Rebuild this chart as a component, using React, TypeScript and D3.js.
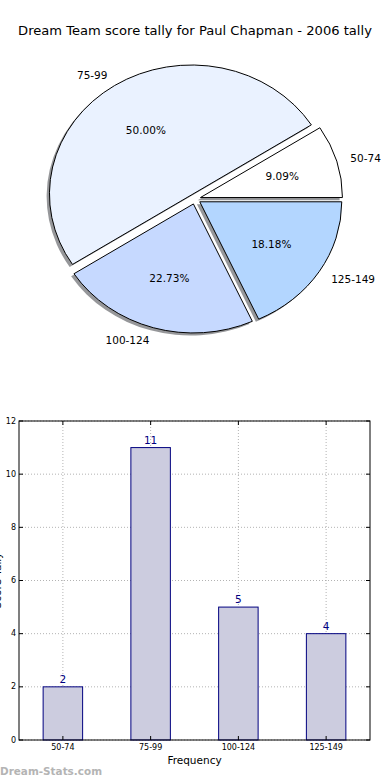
import React from 'react';
import * as d3 from 'd3';

const title = 'Dream Team score tally for Paul Chapman - 2006 tally';
const categories = ['50-74', '75-99', '100-124', '125-149'];
const counts = [2, 11, 5, 4];
const sliceColors = ['#ffffff', '#eaf2ff', '#c6d9ff', '#b3d6ff'];
const yTicks = [0, 2, 4, 6, 8, 10, 12];

const W = 390;
const H = 780;
const FONT = 'DejaVu Sans, sans-serif';

// pie geometry (ellipse, as the original axes were not square)
const cx = 195;
const cy = 199;
const rx = 142;
const ry = 129;
const explode = 0.04;

// bar axes
const plot = { left: 19, right: 370, top: 421, bottom: 740 };

function Pie() {
  const total = d3.sum(counts);
  // matplotlib starts at 3 o'clock and goes counter-clockwise
  const pie = d3.pie<number>().sort(null).startAngle(Math.PI / 2).endAngle(Math.PI / 2 - 2 * Math.PI);
  const arcs = pie(counts);
  const unitArc = d3.arc<d3.PieArcDatum<number>>().innerRadius(0).outerRadius(1);

  const slices = arcs.map((a, i) => {
    const mid = (a.startAngle + a.endAngle) / 2;
    const dx = Math.sin(mid);
    const dy = -Math.cos(mid);
    const ox = cx + explode * rx * dx;
    const oy = cy + explode * ry * dy;
    return { a, i, dx, dy, ox, oy };
  });

  return (
    <g>
      {slices.map(s => (
        <g key={'sh' + s.i} transform={`translate(${s.ox - 0.02 * rx},${s.oy + 0.02 * ry}) scale(${rx},${ry})`}>
          <path d={unitArc(s.a) || ''} fill="#3f4247" fillOpacity={0.55} stroke="none" />
        </g>
      ))}
      {slices.map(s => (
        <g key={'w' + s.i} transform={`translate(${s.ox},${s.oy}) scale(${rx},${ry})`}>
          <path d={unitArc(s.a) || ''} fill={sliceColors[s.i]} stroke="#000" strokeWidth={1} vectorEffect="non-scaling-stroke" strokeLinejoin="round" />
        </g>
      ))}
      {slices.map(s => (
        <text key={'l' + s.i} x={s.ox + 1.1 * rx * s.dx} y={s.oy + 1.1 * ry * s.dy}
          textAnchor={s.dx > 0 ? 'start' : 'end'} dominantBaseline="central"
          fontFamily={FONT} fontSize={10.5}>{categories[s.i]}</text>
      ))}
      {slices.map(s => (
        <text key={'p' + s.i} x={s.ox + 0.6 * rx * s.dx} y={s.oy + 0.6 * ry * s.dy}
          textAnchor="middle" dominantBaseline="central"
          fontFamily={FONT} fontSize={10.5}>{(100 * counts[s.i] / total).toFixed(2) + '%'}</text>
      ))}
    </g>
  );
}

function Bars() {
  const x = d3.scaleLinear().domain([-0.5, categories.length - 0.5]).range([plot.left, plot.right]);
  const y = d3.scaleLinear().domain([0, 12]).range([plot.bottom, plot.top]);
  const barW = 0.45;
  const grid = { stroke: '#a0a0a0', strokeWidth: 0.8, strokeDasharray: '1,2' };

  return (
    <g>
      {yTicks.map(t => (
        <line key={'gy' + t} x1={plot.left} x2={plot.right} y1={y(t)} y2={y(t)} {...grid} />
      ))}
      {categories.map((c, i) => (
        <line key={'gx' + c} x1={x(i)} x2={x(i)} y1={plot.top} y2={plot.bottom} {...grid} />
      ))}
      {counts.map((v, i) => (
        <rect key={'b' + i} x={x(i - barW / 2)} y={y(v)} width={x(barW) - x(0)} height={y(0) - y(v)}
          fill="#ccccdf" stroke="#00007f" strokeWidth={1} />
      ))}
      {counts.map((v, i) => (
        <text key={'v' + i} x={x(i)} y={y(v) - 4} textAnchor="middle" fontFamily={FONT} fontSize={10.5} fill="#00007f">{v}</text>
      ))}
      <rect x={plot.left} y={plot.top} width={plot.right - plot.left} height={plot.bottom - plot.top} fill="none" stroke="#000" strokeWidth={1} />
      {yTicks.map(t => (
        <g key={'ty' + t}>
          <line x1={plot.left} x2={plot.left + 4} y1={y(t)} y2={y(t)} stroke="#000" />
          <line x1={plot.right - 4} x2={plot.right} y1={y(t)} y2={y(t)} stroke="#000" />
          <text x={plot.left - 3} y={y(t)} textAnchor="end" dominantBaseline="central" fontFamily={FONT} fontSize={8}>{t}</text>
        </g>
      ))}
      {categories.map((c, i) => (
        <g key={'tx' + c}>
          <line x1={x(i)} x2={x(i)} y1={plot.bottom} y2={plot.bottom - 4} stroke="#000" />
          <line x1={x(i)} x2={x(i)} y1={plot.top} y2={plot.top + 4} stroke="#000" />
          <text x={x(i)} y={plot.bottom + 10} textAnchor="middle" fontFamily={FONT} fontSize={8}>{c}</text>
        </g>
      ))}
      <text x={(plot.left + plot.right) / 2} y={plot.bottom + 24} textAnchor="middle" fontFamily={FONT} fontSize={10.5}>Frequency</text>
      <text transform={`translate(1,${(plot.top + plot.bottom) / 2}) rotate(-90)`} textAnchor="middle" fontFamily={FONT} fontSize={10.5}>Score Tally</text>
    </g>
  );
}

export default function App() {
  return (
    <svg width={W} height={H} style={{ position: 'absolute', left: 0, top: 0, background: '#fff' }}>
      <rect width={W} height={H} fill="#fff" />
      <text x={195} y={35} textAnchor="middle" fontFamily={FONT} fontSize={13.1}>{title}</text>
      <Pie />
      <Bars />
      <text x={0} y={775} fontFamily={FONT} fontSize={11} fontWeight="bold" fill="#b4b4b4" textLength={102} lengthAdjust="spacingAndGlyphs">Dream-Stats.com</text>
    </svg>
  );
}
